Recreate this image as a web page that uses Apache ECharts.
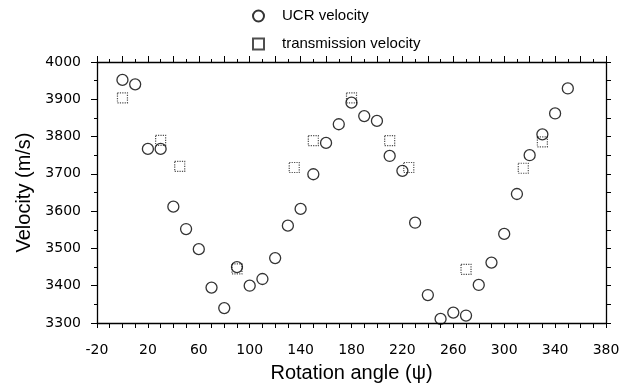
<!DOCTYPE html>
<html>
<head>
<meta charset="utf-8">
<script src="https://cdn.jsdelivr.net/npm/echarts@6/dist/echarts.min.js"></script>
<style>html,body{margin:0;padding:0;background:#fff}#c{width:624px;height:390px}</style>
</head>
<body>
<div id="c"></div>
<script>
// Data
var ucrAngles = [0,10,20,30,40,50,60,70,80,90,100,110,120,130,140,150,160,170,180,190,200,210,220,230,240,250,260,270,280,290,300,310,320,330,340,350];
var ucrVelocity = [3952,3940,3767,3767,3612,3552,3498,3395,3340,3450,3400,3418,3474,3561,3606,3699,3783,3833,3891,3855,3842,3748,3708,3569,3375,3311,3328,3320,3402,3462,3539,3646,3750,3806,3862,3929];
var transAngles = [0,30,45,90,135,150,180,210,225,270,315,330];
var transVelocity = [3904,3790,3720,3445,3717,3789,3904,3789,3717,3444,3715,3786];
var xLabelValues = [-20,20,60,100,140,180,220,260,300,340,380];
var yLabelValues = [3300,3400,3500,3600,3700,3800,3900,4000];

function pairs(xs, ys){ return xs.map(function(x,i){ return [x, ys[i]]; }); }

var chart = echarts.init(document.getElementById('c'), null, {renderer:'canvas'});
var axisLine = {show:true, onZero:false, lineStyle:{color:'#000', width:1.3}};
var tickFont = {fontFamily:'DejaVu Sans', fontSize:14, color:'#000'};
chart.setOption({
  animation:false,
  backgroundColor:'#fff',
  grid:{left:97, right:18, top:62, bottom:67},
  legend:{
    orient:'vertical', left:247, top:3, itemWidth:11, itemHeight:11, itemGap:12,
    textStyle:{fontFamily:'Liberation Sans', fontSize:15, color:'#000', lineHeight:16, padding:[0,0,0,13]},
    data:['UCR velocity','transmission velocity']
  },
  xAxis:[{
    type:'value', position:'bottom', min:-20, max:380, interval:10,
    axisLine:axisLine, splitLine:{show:false},
    axisTick:{show:true, length:5, lineStyle:{color:'#000', width:1}},
    axisLabel:Object.assign({margin:20, formatter:function(v){ return xLabelValues.indexOf(v) >= 0 ? String(v) : ''; }}, tickFont),
    name:'Rotation angle (\u03c8)', nameLocation:'middle', nameGap:40,
    nameTextStyle:{fontFamily:'Liberation Sans', fontSize:20, color:'#000'}
  },{
    type:'value', position:'top', min:-20, max:380, interval:20,
    axisLine:axisLine, splitLine:{show:false},
    axisTick:{show:true, length:6, lineStyle:{color:'#000', width:1}},
    minorTick:{show:true, splitNumber:2, length:3, lineStyle:{color:'#000', width:1}},
    axisLabel:{show:false}
  }],
  yAxis:[{
    type:'value', position:'left', min:3300, max:4000, interval:100,
    axisLine:axisLine, splitLine:{show:false},
    axisTick:{show:true, length:6, lineStyle:{color:'#000', width:1}},
    minorTick:{show:true, splitNumber:2, length:3, lineStyle:{color:'#000', width:1}},
    axisLabel:Object.assign({margin:16, formatter:function(v){ return yLabelValues.indexOf(v) >= 0 ? String(v) : ''; }}, tickFont),
    name:'Velocity (m/s)', nameLocation:'middle', nameGap:62,
    nameTextStyle:{fontFamily:'Liberation Sans', fontSize:20, color:'#000'}
  },{
    type:'value', position:'right', min:3300, max:4000, interval:50,
    axisLine:axisLine, splitLine:{show:false},
    axisTick:{show:true, length:5, lineStyle:{color:'#000', width:1}},
    axisLabel:{show:false}
  }],
  series:[{
    name:'transmission velocity', type:'scatter', xAxisIndex:0, yAxisIndex:0,
    symbol:'rect', symbolSize:10,
    itemStyle:{color:'rgba(0,0,0,0)', borderColor:'#222', borderWidth:1.2, borderType:'dotted'},
    data:pairs(transAngles, transVelocity)
  },{
    name:'UCR velocity', type:'scatter', xAxisIndex:0, yAxisIndex:0,
    symbol:'circle', symbolSize:11,
    itemStyle:{color:'rgba(0,0,0,0)', borderColor:'#000', borderWidth:1.3},
    data:pairs(ucrAngles, ucrVelocity)
  }]
});
</script>
</body>
</html>
